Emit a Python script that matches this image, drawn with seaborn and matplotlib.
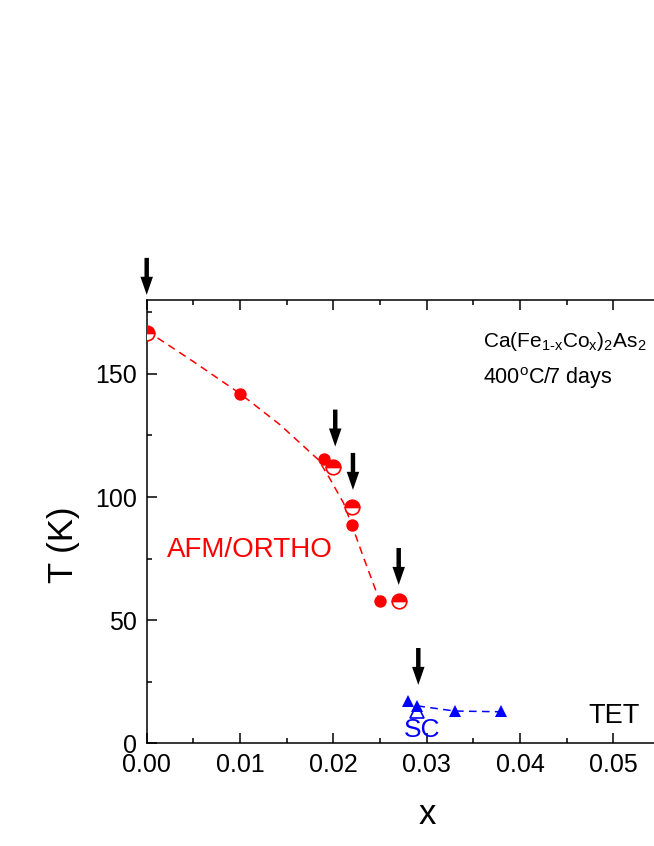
import numpy as np
import pandas as pd
import matplotlib
matplotlib.use("Agg")
import matplotlib.pyplot as plt
import seaborn as sns

# ---- data ----
afm_full_x = [0.010, 0.019, 0.022, 0.025]
afm_full_T = [142.0, 115.5, 88.7, 57.9]

afm_half_x = [0.000, 0.020, 0.022, 0.027]
afm_half_T = [166.8, 112.3, 95.9, 57.9]

afm_guide_x = [0.000, 0.005, 0.010, 0.0143, 0.0184, 0.0196, 0.0211, 0.0223, 0.0232, 0.0248]
afm_guide_T = [167.5, 155.0, 142.0, 129.3, 115.1, 107.6, 97.5, 85.3, 75.8, 59.5]

sc_full_x = [0.028, 0.029, 0.033, 0.038]
sc_full_T = [17.2, 15.2, 13.1, 13.1]

sc_open_x = [0.029]
sc_open_T = [13.1]

sc_guide_x = [0.029, 0.033, 0.038]
sc_guide_T = [15.2, 13.1, 12.8]

arrow_x = [0.000, 0.0202, 0.0221, 0.0270, 0.0291]
arrow_tip_T = [182.1, 120.5, 102.9, 64.3, 23.7]
arrow_len = 15.0

x_ticks = [0.00, 0.01, 0.02, 0.03, 0.04, 0.05]
x_ticklabels = ["0.00", "0.01", "0.02", "0.03", "0.04", "0.05"]
y_ticks = [0, 50, 100, 150]

RED = "#FF0000"
BLUE = "#0000FF"

sns.set_style("ticks")
plt.rcParams["font.family"] = ["Liberation Sans", "DejaVu Sans"]
plt.rcParams["mathtext.fontset"] = "custom"
plt.rcParams["mathtext.rm"] = "Liberation Sans"
plt.rcParams["mathtext.it"] = "Liberation Sans:italic"
plt.rcParams["mathtext.bf"] = "Liberation Sans:bold"
plt.rcParams["text.color"] = "black"

W, H = 654, 846
fig = plt.figure(figsize=(W / 100, H / 100), dpi=100)
left_px, right_px, top_px, bottom_px = 146.7, 706.7, 300.0, 743.3
ax = fig.add_axes([left_px / W, 1 - bottom_px / H,
                   (right_px - left_px) / W, (bottom_px - top_px) / H])

# guide lines
sns.lineplot(x=afm_guide_x, y=afm_guide_T, ax=ax, color=RED, lw=1.1,
             linestyle=(0, (5, 3.5)), sort=False, estimator=None, zorder=2)
sns.lineplot(x=sc_guide_x, y=sc_guide_T, ax=ax, color=BLUE, lw=1.1,
             linestyle=(0, (5, 3.5)), sort=False, estimator=None, zorder=2)

# AFM points
sns.scatterplot(x=afm_full_x, y=afm_full_T, ax=ax, color=RED, s=80,
                edgecolor=RED, linewidth=0, zorder=4)
sns.lineplot(x=afm_half_x, y=afm_half_T, ax=ax, color=RED, linestyle="",
             marker="o", markersize=10.5, fillstyle="top",
             markerfacecolor=RED, markerfacecoloralt="white",
             markeredgecolor=RED, markeredgewidth=1.2, clip_on=True,
             sort=False, estimator=None, zorder=5)

# SC points
sns.lineplot(x=sc_open_x, y=sc_open_T, ax=ax, color=BLUE, linestyle="",
             marker="^", markersize=10, markerfacecolor="white",
             markeredgecolor=BLUE, markeredgewidth=1.2,
             sort=False, estimator=None, zorder=4)
sns.lineplot(x=sc_full_x, y=sc_full_T, ax=ax, color=BLUE, linestyle="",
             marker="^", markersize=8.5, markerfacecolor=BLUE,
             markeredgecolor=BLUE, markeredgewidth=0,
             sort=False, estimator=None, zorder=5)

# arrows
for xa, tip in zip(arrow_x, arrow_tip_T):
    ax.annotate("", xy=(xa, tip), xytext=(xa, tip + arrow_len),
                arrowprops=dict(arrowstyle="simple,head_length=0.65,head_width=0.45,tail_width=0.16",
                                mutation_scale=20, lw=0, fc="black", ec="none",
                                shrinkA=0, shrinkB=0),
                annotation_clip=False, zorder=6)

ax.set_xlim(0, 0.06)
ax.set_ylim(0, 180)
ax.set_xticks(x_ticks)
ax.set_xticklabels(x_ticklabels)
ax.set_yticks(y_ticks)
ax.set_xticks(np.arange(0.005, 0.06, 0.01), minor=True)
ax.set_yticks([25, 75, 125, 175], minor=True)
ax.tick_params(which="both", direction="in", top=True, right=True,
               labelsize=18, width=1.1, pad=7, color="black",
               labelcolor="black")
ax.tick_params(which="major", length=7)
ax.tick_params(which="minor", length=3.6)
for s in ax.spines.values():
    s.set_linewidth(1.1)
    s.set_color("black")

ax.set_xlabel("")
ax.set_ylabel("")
fig.text(427 / W, 1 - 814 / H, "x", fontsize=25, ha="center", va="center")
fig.text(64 / W, 1 - 545 / H, "T (K)", fontsize=25, ha="center", va="center",
         rotation=90)

ax.text(0.0022, 75.8, "AFM/ORTHO", color=RED, fontsize=20, ha="left", va="baseline")
ax.text(0.0275, 2.7, "SC", color=BLUE, fontsize=19, ha="left", va="baseline")
ax.text(0.0473, 8.1, "TET", color="black", fontsize=19.5, ha="left", va="baseline")
ax.text(0.0360, 160.8,
        r"Ca(Fe$_{\mathregular{1\text{-}x}}$Co$_{\mathregular{x}}$)$_{\mathregular{2}}$As$_{\mathregular{2}}$",
        fontsize=15, ha="left", va="baseline")
ax.text(0.0360, 145.9, r"400$^{\mathregular{o}}$C/7 days",
        fontsize=15.5, ha="left", va="baseline")

fig.savefig("out.png", dpi=100)
